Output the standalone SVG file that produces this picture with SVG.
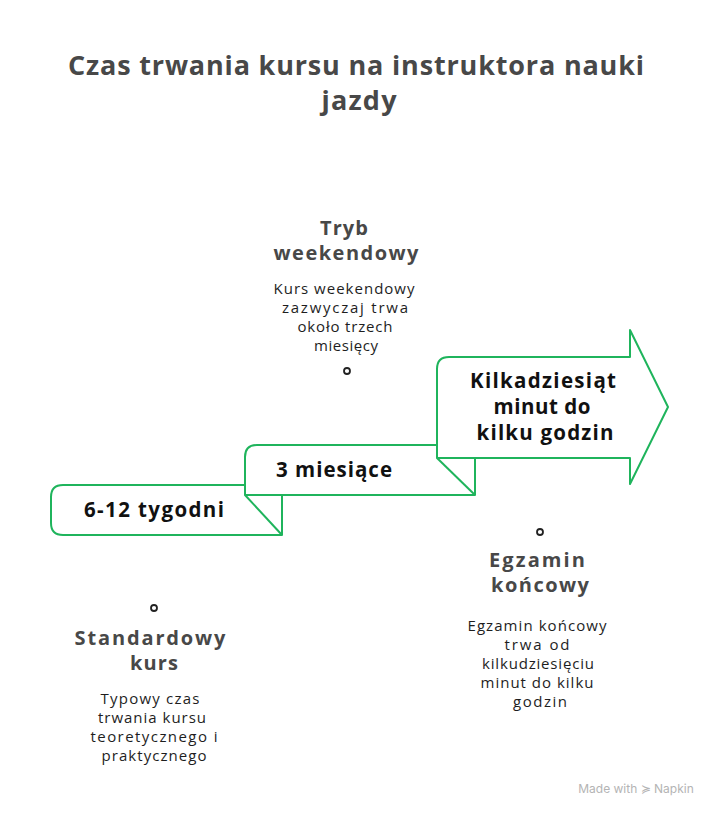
<svg xmlns="http://www.w3.org/2000/svg" width="720" height="819" viewBox="0 0 720 819">
<style>
text{font-family:"Open Sans","Liberation Sans",sans-serif;text-anchor:middle}
.title{font-weight:bold;font-size:27px;fill:#484848}
.head{font-weight:bold;font-size:20px;fill:#484848}
.desc{font-size:15px;fill:#1e1e1e}
.step{font-weight:bold;font-size:20.5px;fill:#111}
.shape{fill:#fff;stroke:#1fb45c;stroke-width:2;stroke-linejoin:round}
.fold{fill:none;stroke:#1fb45c;stroke-width:2}
.dot{fill:#fff;stroke:#222;stroke-width:1.8}
</style>
<rect width="720" height="819" fill="#fff"/>
<g id="title">
<text class="title" x="356" y="75" textLength="576" lengthAdjust="spacing">Czas trwania kursu na instruktora nauki</text>
<text class="title" x="359" y="110" textLength="75" lengthAdjust="spacing">jazdy</text>
</g>
<g id="connectors">
<path class="fold" d="M245 495 L282 535"/>
<path class="fold" d="M437 458 L475 495"/>
</g>
<g id="step1">
<path class="shape" d="M51 497 Q51 485 63 485 H282 V535 H63 Q51 535 51 523 Z"/>
<path class="fold" d="M245 495 L282 535"/>
<text class="step" x="154" y="517" textLength="140" lengthAdjust="spacing">6-12 tygodni</text>
</g>
<g id="step2">
<path class="shape" d="M245 495 V457 Q245 445 257 445 H475 V495 Z"/>
<path class="fold" d="M437 458 L475 495"/>
<text class="step" x="334" y="477" textLength="116" lengthAdjust="spacing">3 miesiące</text>
</g>
<g id="step3">
<path class="shape" d="M437 458 V369 Q437 357 449 357 H630 V330 L668 407 L630 484 V458 Z"/>
<text class="step" x="543" y="388" textLength="146" lengthAdjust="spacing">Kilkadziesiąt</text>
<text class="step" x="542" y="414" textLength="97" lengthAdjust="spacing">minut do</text>
<text class="step" x="545" y="440" textLength="137" lengthAdjust="spacing">kilku godzin</text>
</g>
<g id="weekend">
<text class="head" x="344" y="235" textLength="48" lengthAdjust="spacing">Tryb</text>
<text class="head" x="346" y="260" textLength="145" lengthAdjust="spacing">weekendowy</text>
<text class="desc" x="344" y="294" textLength="141" lengthAdjust="spacing">Kurs weekendowy</text>
<text class="desc" x="345" y="313" textLength="126" lengthAdjust="spacing">zazwyczaj trwa</text>
<text class="desc" x="345" y="332" textLength="95" lengthAdjust="spacing">około trzech</text>
<text class="desc" x="346" y="351" textLength="64" lengthAdjust="spacing">miesięcy</text>
<circle class="dot" cx="347" cy="371" r="3"/>
</g>
<g id="standard">
<circle class="dot" cx="154" cy="608" r="3"/>
<text class="head" x="150" y="645" textLength="151" lengthAdjust="spacing">Standardowy</text>
<text class="head" x="154" y="670" textLength="48" lengthAdjust="spacing">kurs</text>
<text class="desc" x="150" y="704" textLength="99" lengthAdjust="spacing">Typowy czas</text>
<text class="desc" x="152" y="723" textLength="108" lengthAdjust="spacing">trwania kursu</text>
<text class="desc" x="154" y="742" textLength="127" lengthAdjust="spacing">teoretycznego i</text>
<text class="desc" x="154" y="761" textLength="105" lengthAdjust="spacing">praktycznego</text>
</g>
<g id="exam">
<circle class="dot" cx="540" cy="532" r="3"/>
<text class="head" x="537" y="567" textLength="96" lengthAdjust="spacing">Egzamin</text>
<text class="head" x="540" y="592" textLength="98" lengthAdjust="spacing">końcowy</text>
<text class="desc" x="537" y="631" textLength="139" lengthAdjust="spacing">Egzamin końcowy</text>
<text class="desc" x="537" y="650" textLength="65" lengthAdjust="spacing">trwa od</text>
<text class="desc" x="538" y="669" textLength="112" lengthAdjust="spacing">kilkudziesięciu</text>
<text class="desc" x="537" y="688" textLength="113" lengthAdjust="spacing">minut do kilku</text>
<text class="desc" x="540" y="707" textLength="54" lengthAdjust="spacing">godzin</text>
</g>
<g id="footer">
<text x="636" y="793" style="font-family:'Inter','Liberation Sans',sans-serif;font-size:12px;fill:#b4b4b4;text-anchor:middle">Made with ≽ Napkin</text>
</g>
</svg>
